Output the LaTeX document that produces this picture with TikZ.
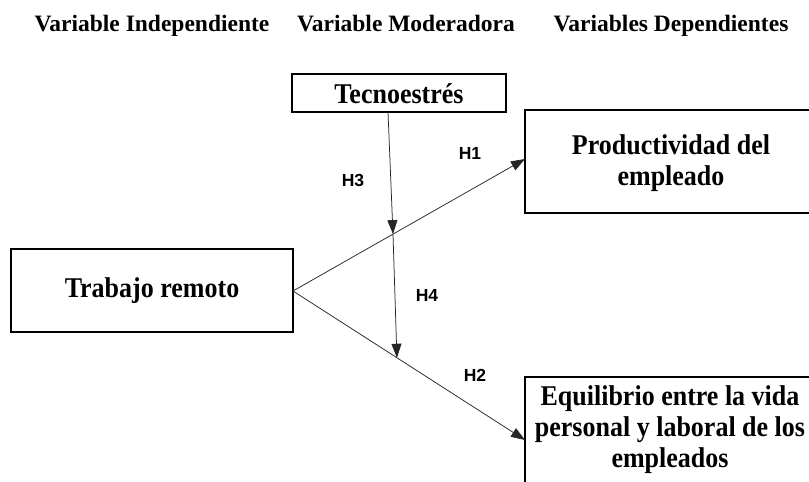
\documentclass[tikz,border=0pt]{standalone}
\usepackage{graphicx}
\usepackage{fontspec}
\setmainfont{Liberation Serif}
\setsansfont{Liberation Sans}
\usetikzlibrary{arrows.meta,calc}
\newcommand\tallt[1]{\scalebox{1}[1.1]{#1}}
\begin{document}
\begin{tikzpicture}[x=1pt,y=-1pt,
  box/.style={draw, line width=1.3pt, inner sep=0pt},
  boxtext/.style={font=\fontsize{26}{31}\selectfont\bfseries, align=center},
  head/.style={font=\fontsize{23.5}{26}\selectfont\bfseries, anchor=base},
  hlab/.style={font=\fontsize{17.5}{20}\selectfont\sffamily\bfseries},
  link/.style={draw=black!85, line width=0.75pt},
  arr/.style={link, -{Triangle[length=14pt,width=10pt]}}]
\clip (0,0) rectangle (809,482);
\fill[white] (0,0) rectangle (809,482);
% headers
\node[head] (h1) at (152,31) {Variable Independiente};
\node[head] (h2) at (406,31) {Variable Moderadora};
\node[head] (h3) at (671,31) {Variables Dependientes};
% boxes
\draw[box] (292,74) rectangle (506,112);
\node[boxtext] (tec) at (399,94) {\tallt{Tecnoestrés}};
\coordinate (tecb) at (388,112);
\draw[box] (11,249) rectangle (293,332);
\node[boxtext] (tr) at (152,291) {\tallt{Trabajo remoto}};
\coordinate (trr) at (293,291);
\draw[box] (525,110) rectangle (818,213);
\node[boxtext] (prod) at (671,163) {\tallt{Productividad del}\\\tallt{empleado}};
\coordinate (prodl) at (525,159);
\draw[box] (525,377) rectangle (818,520);
\node[boxtext] (eq) at (670,430) {\tallt{Equilibrio entre la vida}\\\tallt{personal y laboral de los}\\\tallt{empleados}};
\coordinate (eql) at (525,440);
% junctions
\coordinate (j1) at ($(trr)!0.431!(prodl)$);
\coordinate (j2) at ($(trr)!0.448!(eql)$);
\draw[arr] (trr) -- (prodl);
\draw[arr] (trr) -- (eql);
\draw[arr] (tecb) -- (j1);
\draw[arr] (j1) -- (j2);
% labels
\node[hlab] (l1) at (470,153) {H1};
\node[hlab] (l3) at (353,180) {H3};
\node[hlab] (l4) at (427,295) {H4};
\node[hlab] (l2) at (475,375) {H2};
\end{tikzpicture}
\end{document}
